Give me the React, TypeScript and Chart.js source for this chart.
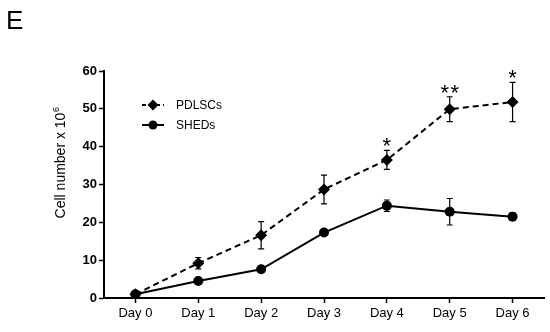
import React, { useEffect, useRef } from "react";
import { Chart, registerables } from "chart.js";

Chart.register(...registerables);

const categories = ["Day 0", "Day 1", "Day 2", "Day 3", "Day 4", "Day 5", "Day 6"];
const pdlscValues = [1.0, 9.2, 16.6, 28.7, 36.5, 49.9, 51.8];
const pdlscErrors = [0.5, 1.5, 3.6, 3.8, 2.5, 3.3, 5.2];
const shedValues = [1.0, 4.5, 7.6, 17.3, 24.4, 22.8, 21.5];
const shedErrors = [0.4, 0.5, 0.7, 0.5, 1.5, 3.5, 1.0];
const significance = ["", "", "", "", "*", "**", "*"];
const yTicks = [0, 10, 20, 30, 40, 50, 60];

const errorBarPlugin = {
  id: "errorBars",
  afterDatasetsDraw(chart: any) {
    const ctx = chart.ctx;
    const y = chart.scales.y;
    const errs = [pdlscErrors, shedErrors];
    ctx.save();
    ctx.strokeStyle = "#000";
    ctx.lineWidth = 1.2;
    chart.data.datasets.forEach((ds: any, di: number) => {
      const meta = chart.getDatasetMeta(di);
      meta.data.forEach((pt: any, i: number) => {
        const v = ds.data[i];
        const e = errs[di][i];
        const top = y.getPixelForValue(v + e);
        const bot = y.getPixelForValue(v - e);
        const x = pt.x;
        ctx.beginPath();
        ctx.moveTo(x, top);
        ctx.lineTo(x, bot);
        ctx.moveTo(x - 3, top);
        ctx.lineTo(x + 3, top);
        ctx.moveTo(x - 3, bot);
        ctx.lineTo(x + 3, bot);
        ctx.stroke();
      });
    });
    // significance stars
    const meta0 = chart.getDatasetMeta(0);
    ctx.fillStyle = "#000";
    ctx.font = "22px 'Liberation Sans', Arial, sans-serif";
    ctx.textAlign = "center";
    ctx.textBaseline = "alphabetic";
    significance.forEach((s, i) => {
      if (!s) return;
      const x = meta0.data[i].x;
      const top = y.getPixelForValue(pdlscValues[i] + pdlscErrors[i]);
      if (s.length === 2) {
        ctx.fillText("*", x - 5, top + 3);
        ctx.fillText("*", x + 5, top + 3);
      } else {
        ctx.fillText(s, x, top + 3);
      }
    });
    ctx.restore();
  },
  afterDraw(chart: any) {
    const ctx = chart.ctx;
    ctx.save();
    // Panel label
    ctx.fillStyle = "#000";
    ctx.font = "26px 'Liberation Sans', Arial, sans-serif";
    ctx.textBaseline = "alphabetic";
    ctx.textAlign = "left";
    ctx.fillText("E", 6, 29);
    // Y axis title with superscript
    ctx.save();
    ctx.translate(65, 163);
    ctx.rotate(-Math.PI / 2);
    ctx.font = "14px 'Liberation Sans', Arial, sans-serif";
    const main = "Cell number x 10";
    const w1 = ctx.measureText(main).width;
    ctx.font = "9px 'Liberation Sans', Arial, sans-serif";
    const w2 = ctx.measureText("6").width;
    const total = w1 + w2;
    ctx.font = "14px 'Liberation Sans', Arial, sans-serif";
    ctx.textAlign = "left";
    ctx.fillText(main, -total / 2, 0);
    ctx.font = "9px 'Liberation Sans', Arial, sans-serif";
    ctx.fillText("6", -total / 2 + w1 + 0.5, -6);
    ctx.restore();
    // Legend
    const rows = [
      { label: "PDLSCs", y: 105, dash: [4, 3], style: "diamond" },
      { label: "SHEDs", y: 125, dash: [], style: "circle" },
    ];
    rows.forEach((r) => {
      ctx.strokeStyle = "#000";
      ctx.lineWidth = 2;
      ctx.setLineDash(r.dash);
      ctx.beginPath();
      ctx.moveTo(142, r.y);
      ctx.lineTo(164, r.y);
      ctx.stroke();
      ctx.setLineDash([]);
      ctx.fillStyle = "#000";
      ctx.beginPath();
      if (r.style === "diamond") {
        ctx.moveTo(153, r.y - 5.5);
        ctx.lineTo(158.5, r.y);
        ctx.lineTo(153, r.y + 5.5);
        ctx.lineTo(147.5, r.y);
        ctx.closePath();
      } else {
        ctx.arc(153, r.y, 4.5, 0, Math.PI * 2);
      }
      ctx.fill();
      ctx.font = "12px 'Liberation Sans', Arial, sans-serif";
      ctx.textBaseline = "middle";
      ctx.fillText(r.label, 176, r.y + 1);
    });
    ctx.restore();
  },
};

export default function App() {
  const ref = useRef<HTMLCanvasElement>(null);
  useEffect(() => {
    if (!ref.current) return;
    const chart = new Chart(ref.current, {
      type: "line",
      data: {
        labels: categories,
        datasets: [
          {
            label: "PDLSCs",
            data: pdlscValues,
            borderColor: "#000",
            backgroundColor: "#000",
            borderWidth: 2,
            borderDash: [6, 4],
            pointStyle: "rectRot",
            pointRadius: 6,
            pointBackgroundColor: "#000",
            pointBorderWidth: 0,
            tension: 0,
          },
          {
            label: "SHEDs",
            data: shedValues,
            borderColor: "#000",
            backgroundColor: "#000",
            borderWidth: 2,
            pointStyle: "circle",
            pointRadius: 5,
            pointBackgroundColor: "#000",
            pointBorderWidth: 0,
            tension: 0,
          },
        ],
      },
      options: {
        animation: false,
        responsive: false,
        maintainAspectRatio: false,
        layout: { padding: { left: 0, top: 71, right: 5, bottom: 0 } },
        plugins: { legend: { display: false }, tooltip: { enabled: false } },
        scales: {
          x: {
            type: "category",
            offset: true,
            grid: {
              display: true,
              drawOnChartArea: false,
              offset: false,
              tickLength: 5,
              tickColor: "#000",
              tickWidth: 1.5,
            },
            border: { display: true, color: "#000", width: 2 },
            ticks: {
              color: "#000",
              font: { family: "'Liberation Sans', Arial, sans-serif", size: 13 },
              padding: 3,
              maxRotation: 0,
            },
            afterFit: (s: any) => {
              s.height = 34;
            },
          },
          y: {
            min: 0,
            max: 60,
            afterBuildTicks: (s: any) => {
              s.ticks = yTicks.map((v) => ({ value: v }));
            },
            grid: {
              display: true,
              drawOnChartArea: false,
              tickLength: 5,
              tickColor: "#000",
              tickWidth: 1.5,
            },
            border: { display: true, color: "#000", width: 2 },
            ticks: {
              color: "#000",
              font: { family: "'Liberation Sans', Arial, sans-serif", size: 13, weight: "bold" },
              padding: 2,
            },
            afterFit: (s: any) => {
              s.width = 104;
            },
          },
        },
      },
      plugins: [errorBarPlugin],
    });
    return () => chart.destroy();
  }, []);
  return (
    <div style={{ position: "fixed", left: 0, top: 0, width: 550, height: 332, background: "#fff" }}>
      <canvas ref={ref} width={550} height={332} style={{ width: 550, height: 332 }} />
    </div>
  );
}
